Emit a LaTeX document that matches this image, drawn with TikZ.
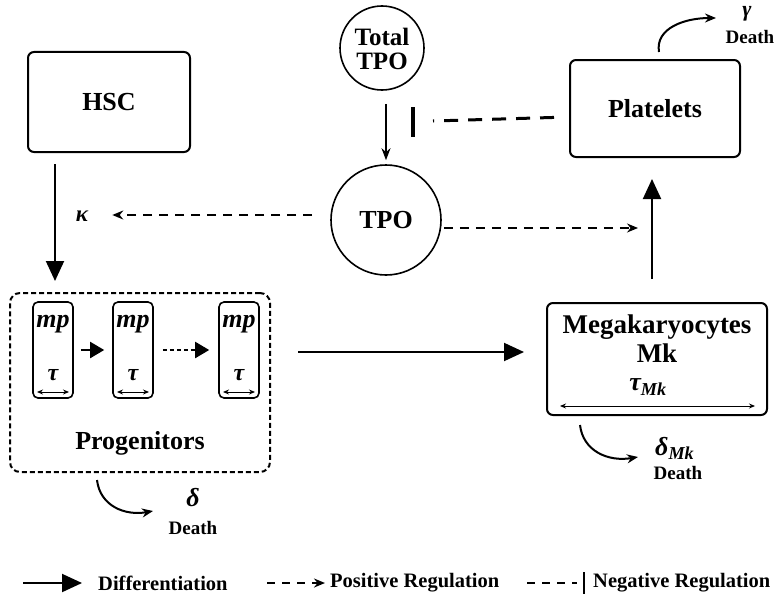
\documentclass[tikz,border=0pt]{standalone}
\usepackage{fontspec}
\setmainfont{Liberation Serif}
\usetikzlibrary{arrows.meta}
\begin{document}
\begin{tikzpicture}[x=1pt,y=-1pt,
  lbl/.style={font=\fontsize{26}{27}\selectfont\bfseries, inner sep=0, align=center},
  grk/.style={font=\fontsize{#1}{#1}\selectfont\bfseries\itshape, inner sep=0},
  dth/.style={font=\fontsize{19}{19}\selectfont\bfseries, inner sep=0},
  leg/.style={font=\fontsize{20.5}{20.5}\selectfont\bfseries, inner sep=0, anchor=west},
  box/.style={draw, line width=2pt, rounded corners=6pt, inner sep=0},
  mpbox/.style={draw, line width=1.6pt, rounded corners=5pt, minimum width=40pt, minimum height=96pt, inner sep=0},
  circ/.style={draw, circle, line width=1.6pt, inner sep=0},
  diff/.style={line width=2pt, -{Triangle[length=20pt,width=18pt]}},
  diffs/.style={line width=2pt, -{Triangle[length=14pt,width=16pt]}},
  posreg/.style={line width=1.6pt, dash pattern=on 9pt off 7pt, -{Stealth[length=11pt,width=9pt]}},
  death/.style={line width=2pt, -{Stealth[length=11pt,width=9pt]}},
  dbl/.style={line width=0.9pt, {Stealth[length=6pt,width=5pt]}-{Stealth[length=6pt,width=5pt]}}
]
\useasboundingbox (0,0) rectangle (778,602);

% main boxes
\node[box, minimum width=162pt, minimum height=100pt] (hsc) at (109,102) {};
\node[lbl] (hsct) at (109,102) {HSC};
\node[box, minimum width=170pt, minimum height=97pt] (plt) at (655,108.5) {};
\node[lbl] (pltt) at (655,108.5) {Platelets};
\node[circ, minimum size=84pt] (ttpo) at (382,48) {};
\node[lbl, font=\fontsize{25}{24}\selectfont\bfseries] (ttpot) at (382,49) {Total\\TPO};
\node[circ, minimum size=110pt] (tpo) at (386,220) {};
\node[lbl] (tpot) at (386,220) {TPO};
\node[box, minimum width=220pt, minimum height=112pt] (mk) at (657,359) {};
\node[lbl, font=\fontsize{27}{29}\selectfont\bfseries] (mkt) at (657,339) {Megakaryocytes\\Mk};
\node[grk=26] (taumk) at (648,387) {τ\textsubscript{Mk}};
\coordinate (mka) at (560,406);
\coordinate (mkb) at (755,406);
\draw[dbl] (mka) -- (mkb);

% progenitors
\node[draw, line width=2pt, dash pattern=on 5pt off 3pt, rounded corners=10pt,
      minimum width=260pt, minimum height=179pt, inner sep=0] (prog) at (140,382.5) {};
\node[lbl] (progt) at (140,443) {Progenitors};
\foreach \i/\x in {1/53,2/133,3/239}{
  \node[mpbox] (mp\i) at (\x,350) {};
  \node[grk=26] (mpt\i) at (\x,324) {mp};
  \node[grk=24] (tau\i) at (\x,375) {τ};
  \coordinate (da\i) at (\x-16,392);
  \coordinate (db\i) at (\x+16,392);
  \draw[dbl] (da\i) -- (db\i);
}
\draw[diffs, shorten <=7pt, shorten >=8pt] (mp1) -- (mp2);
\draw[line width=2pt, dash pattern=on 4pt off 3pt, -{Triangle[length=14pt,width=16pt]}, shorten <=9pt, shorten >=9pt] (mp2) -- (mp3);

% connectors
\draw[diff, shorten <=11pt, shorten >=11pt] ([xshift=-54pt]hsc.south) -- ([xshift=-54pt]hsc.south |- prog.north);
\draw[diff, shorten <=27pt, shorten >=22pt] ([yshift=7pt]mk.west -| prog.east) -- ([yshift=7pt]mk.west);
\draw[diff, shorten <=23pt, shorten >=21pt] ([xshift=-5pt]mk.north) -- ([xshift=-5pt]mk.north |- plt.south);
\draw[line width=1.6pt, -{Stealth[length=12pt,width=9pt]}, shorten <=13pt, shorten >=4pt] (tpo.north |- ttpo.south) -- (tpo.north);

\node[grk=23] (kappa) at (82,216) {κ};
\draw[posreg, shorten <=18pt, shorten >=24pt] ([yshift=5pt]tpo.west) -- ([yshift=5pt]tpo.west -| kappa.east);
\coordinate (pr) at (638,228);
\draw[posreg, shorten <=2pt] ([yshift=-8pt]tpo.east) -- (pr);

% negative regulation platelets -> TPO
\coordinate (nbs) at (433,121);
\coordinate (nb) at (413,122);
\draw[line width=3pt, dash pattern=on 14pt off 10pt, shorten <=15pt] ([yshift=-8.5pt]plt.west) -- (nbs);
\draw[line width=3.5pt] ([yshift=15pt]nb) -- ([yshift=-15pt]nb);

% deaths
\coordinate (pd0) at (659,52);
\coordinate (pd1) at (716,18);
\draw[death] (pd0) .. controls (655,28) and (685,18) .. (pd1);
\node[grk=22] (gam) at (747,14) {γ};
\node[dth] (gamd) at (750,37) {Death};

\coordinate (gd0) at (97,480);
\coordinate (gd1) at (153,511);
\draw[death] (gd0) .. controls (100,506) and (125,516) .. (gd1);
\node[grk=26] (del) at (193,498) {δ};
\node[dth] (deld) at (193,528) {Death};

\coordinate (md0) at (580,425);
\coordinate (md1) at (638,457);
\draw[death] (md0) .. controls (583,451) and (608,462) .. (md1);
\node[grk=26, anchor=west] (delmk) at (655,448) {δ\textsubscript{Mk}};
\node[dth] (delmkd) at (678,473) {Death};

% legend
\coordinate (l1a) at (23,583);
\coordinate (l1b) at (82,583);
\draw[diff] (l1a) -- (l1b);
\node[leg] (l1t) at (98,583) {Differentiation};
\coordinate (l2a) at (267,583);
\coordinate (l2b) at (325,583);
\draw[line width=2pt, dash pattern=on 8pt off 7pt, -{Stealth[length=11pt,width=9pt]}] (l2a) -- (l2b);
\node[leg] (l2t) at (330,583) {Positive Regulation};
\coordinate (l3a) at (527,583);
\coordinate (l3b) at (577,583);
\coordinate (l3c) at (584,583);
\draw[line width=2pt, dash pattern=on 8pt off 7pt] (l3a) -- (l3b);
\draw[line width=2.5pt] ([yshift=11pt]l3c) -- ([yshift=-11pt]l3c);
\node[leg] (l3t) at (593,583) {Negative Regulation};
\end{tikzpicture}
\end{document}
